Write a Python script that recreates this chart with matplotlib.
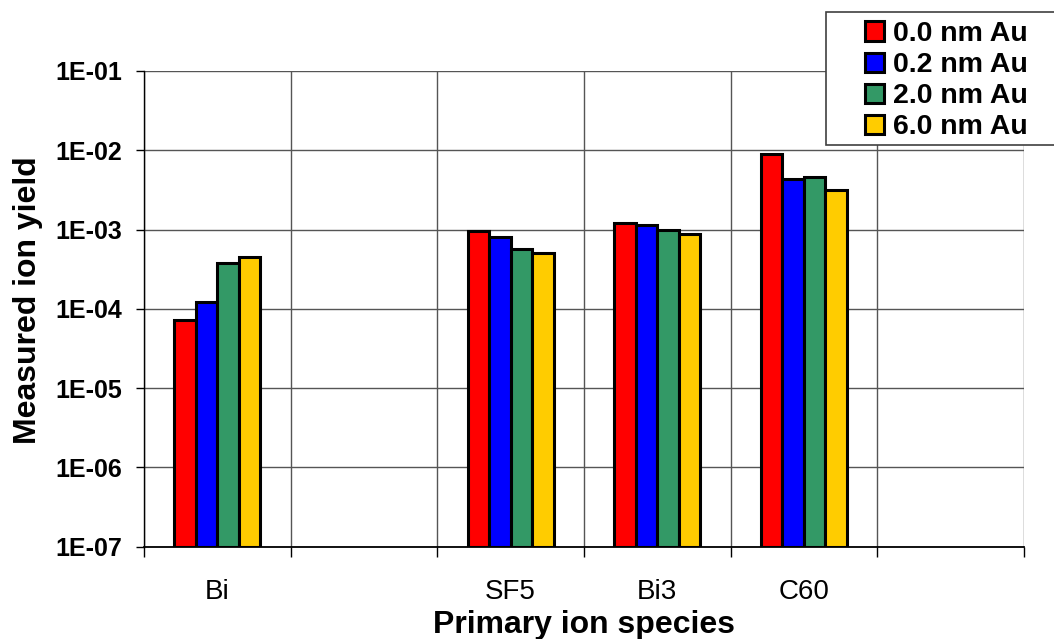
import numpy as np
import matplotlib
matplotlib.use("Agg")
import matplotlib.pyplot as plt
from matplotlib.patches import Rectangle
from matplotlib.ticker import FixedLocator, NullLocator

plt.rcParams['font.family'] = ['Liberation Sans', 'DejaVu Sans']

# primary ion species (two empty slots as in the original sheet)
species = ["Bi", "", "SF5", "Bi3", "C60", ""]
series = ["0.0 nm Au", "0.2 nm Au", "2.0 nm Au", "6.0 nm Au"]
colors = ["#ff0000", "#0000ff", "#339966", "#ffcc00"]

yield_00 = [7.2e-5, np.nan, 9.6e-4, 1.2e-3, 8.9e-3, np.nan]
yield_02 = [1.2e-4, np.nan, 8.1e-4, 1.15e-3, 4.35e-3, np.nan]
yield_20 = [3.8e-4, np.nan, 5.6e-4, 9.8e-4, 4.55e-3, np.nan]
yield_60 = [4.5e-4, np.nan, 5.1e-4, 8.9e-4, 3.17e-3, np.nan]
values = [yield_00, yield_02, yield_20, yield_60]

ytick_labels = ["1E-07", "1E-06", "1E-05", "1E-04", "1E-03", "1E-02", "1E-01"]

fig = plt.figure(figsize=(10.54, 6.39), dpi=100)
ax = fig.add_axes([0.1366, 0.1445, 0.9715 - 0.1366, 0.889 - 0.1445])

x = np.arange(len(species))
w = 0.1466
for i, (vals, col, lab) in enumerate(zip(values, colors, series)):
    ax.bar(x + (i - 1.5) * w, vals, width=w, color=col, edgecolor="black",
           linewidth=2.2, label=lab, zorder=3, bottom=1e-7)

ax.set_yscale("log")
ax.set_ylim(1e-7, 1e-1)
ax.set_xlim(-0.5, len(species) - 0.5)

yt = [10.0 ** k for k in range(-7, 0)]
ax.yaxis.set_major_locator(FixedLocator(yt))
ax.yaxis.set_minor_locator(NullLocator())
ax.set_yticklabels(ytick_labels, fontsize=18, fontweight="bold")

ax.set_xticks(x)
ax.set_xticklabels(species, fontsize=20)
ax.set_xticks(np.arange(len(species) + 1) - 0.5, minor=True)
ax.tick_params(axis="x", which="major", length=0, pad=23)
ax.tick_params(axis="x", which="minor", length=7, width=1, direction="out")
ax.tick_params(axis="y", which="major", length=6, width=1, direction="out", pad=10)

ax.grid(True, axis="y", which="major", color="#555555", linewidth=1.0, zorder=0)
ax.grid(True, axis="x", which="minor", color="#555555", linewidth=1.0, zorder=0)

for s in ["top", "right"]:
    ax.spines[s].set_visible(False)
ax.spines["left"].set_linewidth(1.0)
ax.spines["bottom"].set_linewidth(1.3)

ax.set_ylabel("Measured ion yield", fontsize=23, fontweight="bold")
ax.yaxis.set_label_coords(-0.115, 0.519)
ax.set_xlabel("Primary ion species", fontsize=23, fontweight="bold", labelpad=4)

# legend frame as drawn in the original sheet (runs off the right edge)
fig.patches.append(Rectangle((826 / 1054, 1 - 145 / 639), 0.3, (145 - 12) / 639,
                             transform=fig.transFigure, facecolor="white",
                             edgecolor="#404040", linewidth=1.2, zorder=5))
leg = fig.legend(loc="upper left", bbox_to_anchor=(865 / 1054, 1 - 21 / 639),
                 prop={"weight": "bold", "size": 20.5}, frameon=False,
                 handlelength=0.65, handleheight=0.65, handletextpad=0.35,
                 labelspacing=0.18, borderpad=0, borderaxespad=0)
leg.set_zorder(6)
for h in leg.legend_handles:
    h.set_linewidth(2.2)

fig.savefig("out.png", dpi=100)
